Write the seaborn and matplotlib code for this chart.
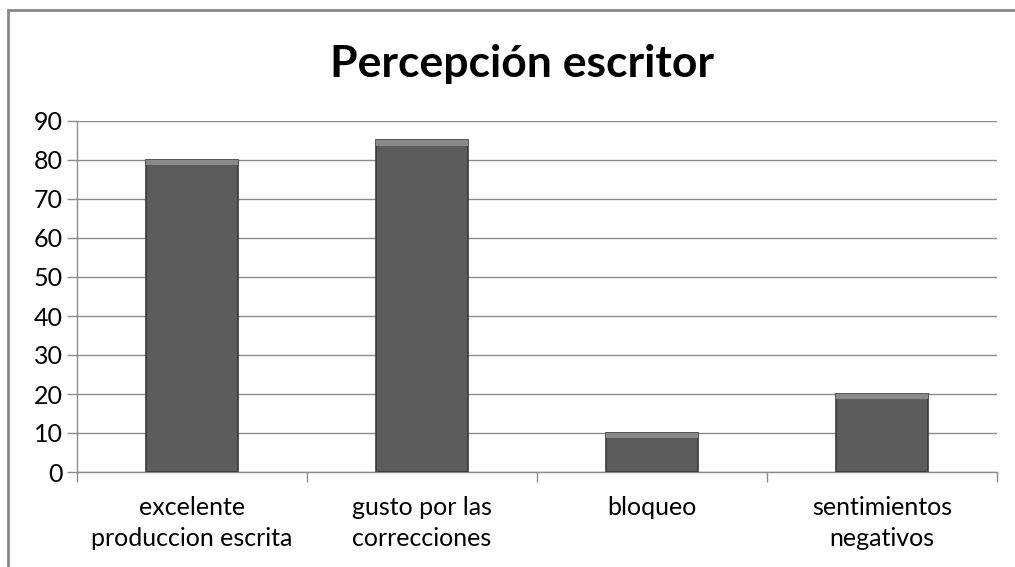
import numpy as np
import pandas as pd
import matplotlib
matplotlib.use("Agg")
import matplotlib.pyplot as plt
import seaborn as sns
from matplotlib.patches import Rectangle

# data
categories = ["excelente\nproduccion escrita", "gusto por las\ncorrecciones",
              "bloqueo", "sentimientos\nnegativos"]
values = [80, 85, 10, 20]
y_ticks = list(range(0, 91, 10))

df = pd.DataFrame({"categoria": categories, "valor": values})

sns.set_style("white")
plt.rcParams["font.family"] = ["Lato", "DejaVu Sans"]

fig = plt.figure(figsize=(10.15, 5.67), dpi=100)
ax = fig.add_axes([77 / 1015, 95 / 567, 920 / 1015, 351 / 567])

sns.barplot(data=df, x="categoria", y="valor", color="#5c5c5c", width=0.4,
            edgecolor="#3a3a3a", linewidth=1.2, saturation=1, ax=ax, zorder=3)

# soft bevel look: light strip along the top of each bar
for p in ax.patches:
    x0, w, h = p.get_x(), p.get_width(), p.get_height()
    ax.add_patch(Rectangle((x0, h - 1.4), w, 1.4, facecolor="#8a8a8a",
                           edgecolor="none", zorder=4))

ax.set_ylim(0, 90)
ax.set_xlim(-0.5, len(categories) - 0.5)
ax.set_yticks(y_ticks)
ax.set_xlabel("")
ax.set_ylabel("")
ax.grid(axis="y", color="#8c8c8c", linewidth=1, zorder=0)
ax.set_axisbelow(True)

for s in ["top", "right"]:
    ax.spines[s].set_visible(False)
for s in ["left", "bottom"]:
    ax.spines[s].set_color("#8c8c8c")
    ax.spines[s].set_linewidth(1)

ax.tick_params(axis="y", length=7, width=1, color="#8c8c8c", labelsize=18,
               labelcolor="black", direction="out", left=True, pad=3)
ax.tick_params(axis="x", which="major", length=0, labelsize=18,
               labelcolor="black", pad=17)
ax.set_xticks(np.arange(-0.5, len(categories), 1.0), minor=True)
ax.tick_params(axis="x", which="minor", length=7, width=1, color="#8c8c8c",
               direction="out", bottom=True)
for lbl in ax.get_xticklabels():
    lbl.set_linespacing(1.45)

fig.text(0.514, 0.888, "Percepción escritor", ha="center", va="center",
         fontsize=32, fontweight="bold", color="black")

# chart frame (partially cropped like the original)
fig.patches.append(Rectangle((8 / 1015, -0.1), 1.1, 1 - 10 / 567 + 0.1,
                             transform=fig.transFigure, fill=False,
                             edgecolor="#888888", linewidth=2))

fig.savefig("out.png", dpi=100)
